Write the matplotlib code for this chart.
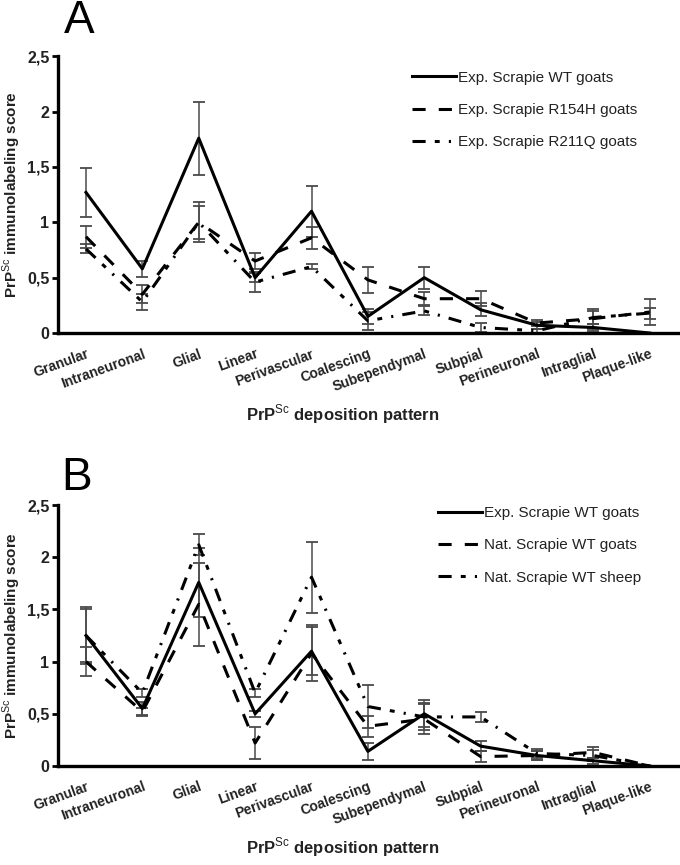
import numpy as np
import matplotlib
matplotlib.use("Agg")
from matplotlib import pyplot as plt
from matplotlib.transforms import ScaledTranslation

plt.rcParams['font.family'] = ['Liberation Sans', 'DejaVu Sans']
plt.rcParams['mathtext.fontset'] = 'custom'
plt.rcParams['mathtext.rm'] = 'Liberation Sans'
plt.rcParams['mathtext.bf'] = 'Liberation Sans:bold'

# ======================
# Datos
# ======================
patrones = ["Granular", "Intraneuronal", "Glial", "Linear", "Perivascular",
            "Coalescing", "Subependymal", "Subpial", "Perineuronal",
            "Intraglial", "Plaque-like"]
yticks = [0, 0.5, 1, 1.5, 2, 2.5]
ytick_labels = ["0", "0,5", "1", "1,5", "2", "2,5"]

# Panel A
exp_wt = [1.27, 0.58, 1.76, 0.50, 1.10, 0.15, 0.50, 0.21, 0.07, 0.05, 0.00]
exp_wt_err = [0.22, 0.07, 0.33, 0.04, 0.23, 0.07, 0.10, 0.06, 0.03, 0.03, 0.00]
exp_r154h = [0.87, 0.35, 1.00, 0.65, 0.86, 0.48, 0.31, 0.31, 0.09, 0.13, 0.19]
exp_r154h_err = [0.10, 0.08, 0.15, 0.07, 0.10, 0.12, 0.06, 0.07, 0.03, 0.09, 0.12]
exp_r211q = [0.76, 0.28, 1.00, 0.46, 0.60, 0.11, 0.20, 0.05, 0.02, 0.14, 0.18]
exp_r211q_err = [0.04, 0.07, 0.18, 0.09, 0.02, 0.08, 0.04, 0.04, 0.02, 0.06, 0.05]
etiquetas_a = ["Exp. Scrapie WT goats", "Exp. Scrapie R154H goats",
               "Exp. Scrapie R211Q goats"]

# Panel B
b_exp_wt = [1.25, 0.55, 1.76, 0.50, 1.10, 0.14, 0.50, 0.19, 0.10, 0.05, 0.00]
b_exp_wt_err = [0.25, 0.06, 0.33, 0.03, 0.23, 0.08, 0.13, 0.05, 0.04, 0.03, 0.00]
nat_goats = [1.00, 0.52, 1.55, 0.22, 1.08, 0.38, 0.45, 0.09, 0.10, 0.13, 0.00]
nat_goats_err = [0.14, 0.04, 0.40, 0.15, 0.27, 0.10, 0.14, 0.05, 0.04, 0.05, 0.00]
nat_sheep = [1.25, 0.70, 2.12, 0.70, 1.81, 0.57, 0.47, 0.47, 0.12, 0.10, 0.00]
nat_sheep_err = [0.27, 0.04, 0.10, 0.04, 0.34, 0.21, 0.13, 0.05, 0.04, 0.05, 0.00]
etiquetas_b = ["Exp. Scrapie WT goats", "Nat. Scrapie WT goats",
               "Nat. Scrapie WT sheep"]

estilos = ["-", (0, (4.3, 4.3)), (0, (4.3, 3, 1.6, 3, 0.7, 3))]


def dibujar_panel(ax, series, errores, etiquetas, legend_pos):
    x = np.arange(len(patrones)) + 0.5
    for y, e, lab, ls in zip(series, errores, etiquetas, estilos):
        ax.errorbar(x, y, yerr=e, fmt="none", ecolor="#4a4a4a",
                    elinewidth=1.1, capsize=4.5, capthick=1.3, zorder=2)
        ax.plot(x, y, color="black", lw=2.2, linestyle=ls, label=lab, zorder=3)

    ax.set_xlim(0, len(patrones))
    ax.set_ylim(0, 2.5)
    ax.set_yticks(yticks)
    ax.set_yticklabels(ytick_labels, fontsize=11.5, fontweight="bold",
                       color="#222222")
    ax.set_xticks(x)
    ax.set_xticklabels(patrones, rotation=20, ha="right", fontweight="bold",
                       rotation_mode="anchor", fontsize=10, color="#222222")
    # desplazar un poco las etiquetas a la izquierda
    desplaz = ScaledTranslation(-6 / 72, -2 / 72, ax.figure.dpi_scale_trans)
    for lbl in ax.get_xticklabels():
        lbl.set_transform(lbl.get_transform() + desplaz)
    ax.tick_params(axis="x", length=0, pad=10)
    ax.tick_params(axis="y", length=4, width=2, direction="out", pad=2)
    for s in ["top", "right"]:
        ax.spines[s].set_visible(False)
    for s in ["left", "bottom"]:
        ax.spines[s].set_linewidth(2.4)
    ax.set_ylabel("PrP$^{\\rm Sc}$ immunolabeling score", fontsize=11,
                  fontweight="bold", labelpad=3, color="#222222")
    ax.set_xlabel("PrP$^{\\rm Sc}$ deposition pattern", fontsize=12,
                  fontweight="bold", x=0.46, labelpad=6, color="#222222")
    leg = ax.legend(loc="upper left", bbox_to_anchor=legend_pos, frameon=False,
                    fontsize=11, handlelength=2.9, handletextpad=0.15,
                    labelspacing=1.2, borderaxespad=0)
    for t in leg.get_texts():
        t.set_color("#222222")


fig = plt.figure(figsize=(6.8, 8.65), dpi=100)
ax_a = fig.add_axes([0.085, 0.615, 0.912, 0.32])
ax_b = fig.add_axes([0.085, 0.1145, 0.912, 0.3015])

dibujar_panel(ax_a, [exp_wt, exp_r154h, exp_r211q],
              [exp_wt_err, exp_r154h_err, exp_r211q_err], etiquetas_a,
              (0.561, 0.97))
dibujar_panel(ax_b, [b_exp_wt, nat_goats, nat_sheep],
              [b_exp_wt_err, nat_goats_err, nat_sheep_err], etiquetas_b,
              (0.603, 1.02))

fig.text(0.094, 0.962, "A", fontsize=33, ha="left", va="baseline")
fig.text(0.090, 0.434, "B", fontsize=33, ha="left", va="baseline")

plt.savefig("out.png", dpi=100)
